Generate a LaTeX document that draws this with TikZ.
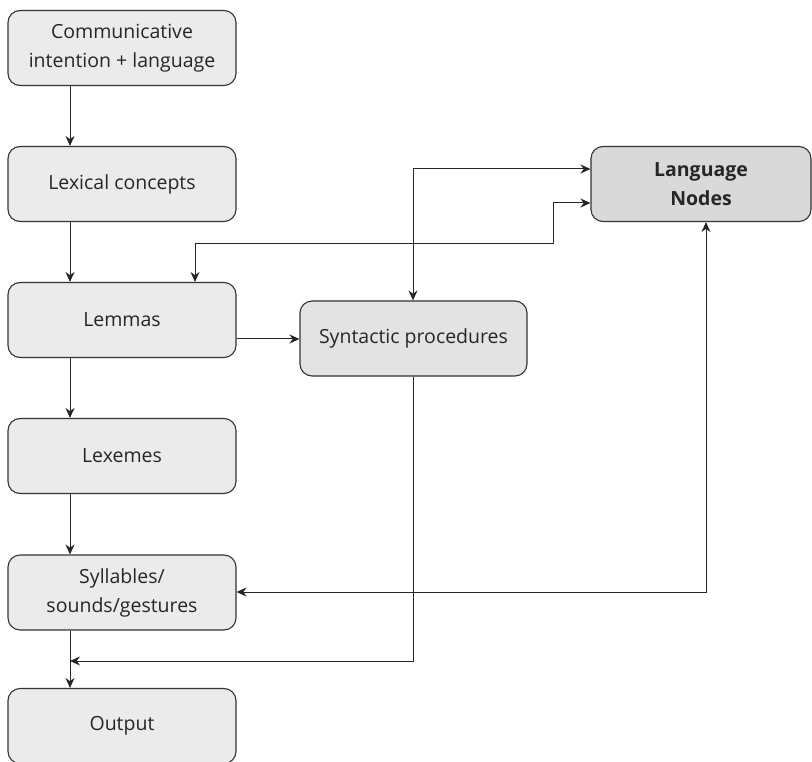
\documentclass[tikz,border=0pt]{standalone}
\usepackage{fontspec}
\setmainfont{Open Sans}
\usetikzlibrary{arrows.meta}
\definecolor{boxfill}{HTML}{EBEBEB}
\definecolor{synfill}{HTML}{E3E3E3}
\definecolor{langfill}{HTML}{D9D9D9}
\definecolor{edge}{HTML}{333333}
\begin{document}
\begin{tikzpicture}[x=1pt,y=-1pt,
  box/.style={draw=edge,line width=1.1pt,rounded corners=12pt,fill=boxfill,
    minimum width=228pt,minimum height=75pt,align=center,inner sep=0pt,
    font=\fontsize{19.5}{29}\selectfont,text=black!85},
  conn/.style={draw=black!85,line width=1pt,-{Stealth[length=10pt,width=9pt]}},
  both/.style={conn,{Stealth[length=10pt,width=9pt]}-{Stealth[length=10pt,width=9pt]}}]
\useasboundingbox (0,0) rectangle (812,762);
\node[box] (comm) at (122,48) {Communicative\\intention + language};
\node[box] (lex) at (122,184) {Lexical concepts};
\node[box] (lem) at (122,320) {Lemmas};
\node[box] (lxm) at (122,456) {Lexemes};
\node[box] (syl) at (122,592.5) {Syllables/\\sounds/gestures};
\node[box] (out) at (122,726) {Output};
\node[box,fill=synfill,minimum width=227pt] (syn) at (413.5,338.5) {Syntactic procedures};
\node[box,fill=langfill,minimum width=220pt,font=\fontsize{19.5}{29}\selectfont\bfseries] (lang) at (701,184) {Language\\Nodes};
\coordinate (c1) at (413,169);
\coordinate (c2) at (195,244);
\coordinate (c3) at (553,244);
\coordinate (c4) at (553,203);
\coordinate (c5) at (706,592);
\coordinate (c6) at (413,661);
\coordinate (c7) at (70,661);
\draw[conn] (comm.south -| 70,0) -- (lex.north -| 70,0);
\draw[conn] (lex.south -| 70,0) -- (lem.north -| 70,0);
\draw[conn] (lem.south -| 70,0) -- (lxm.north -| 70,0);
\draw[conn] (lxm.south -| 70,0) -- (syl.north -| 70,0);
\draw[conn] (syl.south -| 70,0) -- (out.north -| 70,0);
\draw[conn] (lem.east |- 0,339) -- (syn.west |- 0,339);
\draw[both] (syn.north -| c1) -- (c1) -- (lang.west |- c1);
\draw[both] (lem.north -| c2) -- (c2) -- (c3) -- (c4) -- (lang.west |- c4);
\draw[both] (lang.south -| c5) -- (c5) -- (syl.east |- c5);
\draw[conn] (syn.south -| c6) -- (c6) -- (c7);
\end{tikzpicture}
\end{document}
